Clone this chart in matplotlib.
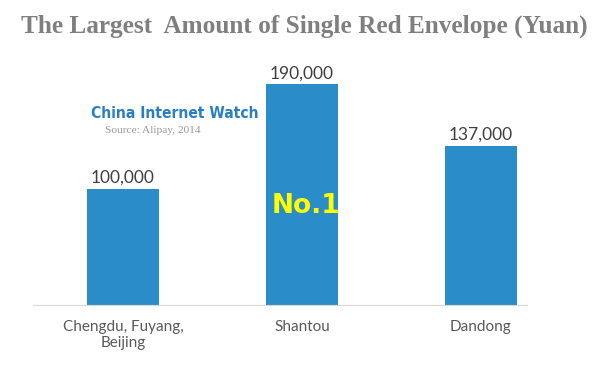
import matplotlib.pyplot as plt

cities = ['Chengdu, Fuyang,\nBeijing', 'Shantou', 'Dandong']
amounts = [100000, 190000, 137000]
value_labels = ['100,000', '190,000', '137,000']

fig = plt.figure(figsize=(6, 3.7), dpi=100)
ax = fig.add_axes([0.055, 0.1757, 0.823, 0.628])

x = range(len(cities))
bars = ax.bar(x, amounts, width=0.4, color='#2a8cc8')

for i, v in enumerate(amounts):
    ax.text(i, v + 2500, value_labels[i], ha='center', va='bottom',
            fontsize=12.5, color='#404040', family='Lato')

ax.text(1.025, amounts[1] * 0.45, 'No.1', ha='center', va='center', fontsize=19,
        fontweight='bold', color='#ffff00', family='DejaVu Sans')

ax.set_xlim(-0.503, 2.257)
ax.set_ylim(0, 200000)
ax.set_xticks(list(x))
ax.set_xticklabels(cities, fontsize=11, color='#595959', family='Lato',
                   linespacing=1.15)
ax.tick_params(axis='x', length=0, pad=11)
ax.set_yticks([])
for s in ['top', 'right', 'left']:
    ax.spines[s].set_visible(False)
ax.spines['bottom'].set_color('#d9d9d9')

fig.text(0.508, 0.93, 'The Largest  Amount of Single Red Envelope (Yuan)',
         ha='center', va='center', fontsize=18.2, fontweight='bold',
         color='#7f7f7f', family='Liberation Serif')
fig.text(0.152, 0.693, 'China Internet Watch', ha='left', va='center',
         fontsize=11.2, fontweight='bold', color='#2a7fc4',
         family='DejaVu Sans', fontstretch='condensed')
fig.text(0.175, 0.648, 'Source: Alipay, 2014', ha='left', va='center',
         fontsize=8.2, color='#999999', family='Liberation Serif')

fig.savefig('out.png', dpi=100)
